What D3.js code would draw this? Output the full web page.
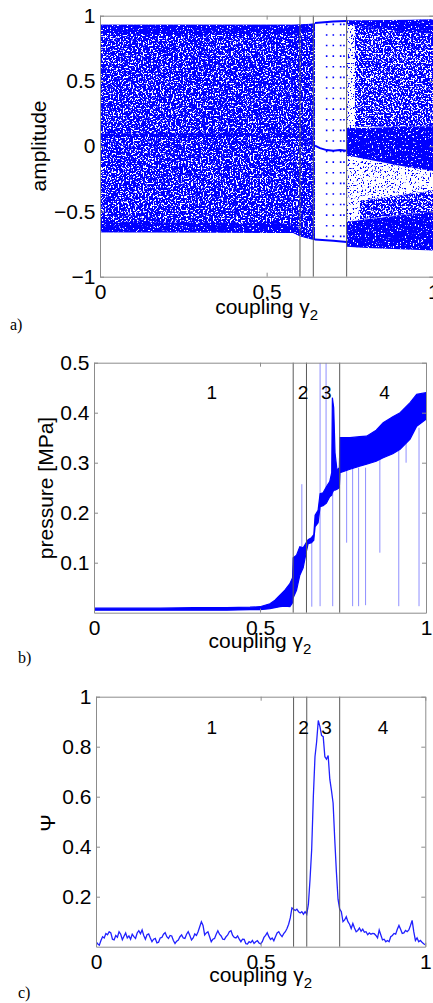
<!DOCTYPE html>
<html><head><meta charset="utf-8">
<script src="https://cdn.jsdelivr.net/npm/d3@7"></script>
<style>body{margin:0;background:#fff}svg{display:block}</style>
</head><body>
<svg id="c" width="433" height="1003"></svg>
<script>
// ---------------- DATA ----------------
const xTicks = [0, 0.5, 1];
const ampTicks = [-1, -0.5, 0, 0.5, 1];
const presTicks = [0.1, 0.2, 0.3, 0.4, 0.5];
const psiTicks = [0.2, 0.4, 0.6, 0.8, 1];
const dividers = [0.6, 0.64, 0.74];
const regionNames = ["1", "2", "3", "4"];
const regionGammaB = [0.355, 0.63, 0.70, 0.875];
const regionGammaC = [0.352, 0.63, 0.70, 0.872];

// panel a: envelopes of the point cloud  [gamma, upper, lower]
const ampLeftMain  = [[0,0.93,-0.66],[0.3,0.93,-0.66],[0.58,0.93,-0.665],[0.6,0.93,-0.69],[0.62,0.935,-0.705],[0.645,0.94,-0.72]];
const ampLeftTop   = [[0,0.93,0.86],[0.58,0.93,0.86],[0.645,0.94,0.88]];
const ampLeftMid   = [[0,0.10,0.07],[0.58,0.10,0.07],[0.61,0.07,0.04],[0.645,0.02,-0.01]];
const ampLeftBot   = [[0,-0.58,-0.66],[0.58,-0.59,-0.665],[0.6,-0.64,-0.69],[0.645,-0.69,-0.72]];
const ampRightBase = [[0.74,0.96,-0.77],[1,0.97,-0.8]];
const ampRightUp   = [[0.765,0.955,0.15],[0.8,0.96,0.15],[1,0.97,0.15]];
const ampRightTop  = [[0.74,0.965,0.935],[0.8,0.965,0.91],[1,0.97,0.86]];
const ampRightMid  = [[0.74,0.14,-0.07],[0.8,0.14,-0.1],[0.9,0.15,-0.15],[1,0.15,-0.19]];
const ampRightLow  = [[0.78,-0.42,-0.56],[1,-0.34,-0.5]];
const ampRightBot  = [[0.74,-0.58,-0.77],[0.8,-0.56,-0.78],[1,-0.5,-0.8]];
// periodic window branches  [gamma, amplitude]
const ampBranchTop = [[0.645,0.945],[0.7,0.955],[0.74,0.96]];
const ampBranchMid = [[0.645,0.005],[0.66,-0.015],[0.68,-0.03],[0.70,-0.035],[0.72,-0.03],[0.74,-0.035]];
const ampBranchBot = [[0.645,-0.715],[0.7,-0.725],[0.74,-0.735]];
const ampColumnsG  = [0.68, 0.70, 0.722, 0.732];
const ampColumnsHi = [0.94, 0.94, 0.94, 0.94];
const ampColumnsLo = [-0.74, -0.74, -0.74, -0.74];

// panel b: pressure band
const presG  = [0,0.1,0.2,0.3,0.4,0.47,0.5,0.53,0.545,0.56,0.575,0.59,0.598,0.6,0.61,0.62,0.63,0.639,0.645,0.655,0.662,0.666,0.675,0.681,0.69,0.70,0.71,0.716,0.718,0.722,0.726,0.732,0.739,0.741,0.771,0.80,0.821,0.85,0.871,0.90,0.922,0.952,0.972,1.0];
const presLo = [0.005,0.005,0.005,0.005,0.005,0.006,0.006,0.008,0.010,0.012,0.013,0.012,0.020,0.030,0.045,0.075,0.090,0.120,0.138,0.140,0.145,0.172,0.180,0.212,0.214,0.219,0.232,0.235,0.240,0.245,0.245,0.247,0.250,0.280,0.287,0.293,0.297,0.303,0.310,0.318,0.327,0.347,0.373,0.387];
const presHi = [0.009,0.009,0.009,0.010,0.010,0.011,0.012,0.018,0.025,0.035,0.045,0.058,0.070,0.110,0.115,0.132,0.130,0.140,0.146,0.150,0.156,0.195,0.205,0.238,0.240,0.252,0.262,0.280,0.430,0.410,0.320,0.285,0.290,0.350,0.350,0.352,0.353,0.365,0.380,0.392,0.400,0.420,0.437,0.440];
const spikeG   = [0.0, 0.626, 0.656, 0.681, 0.699, 0.719, 0.761, 0.779, 0.797, 0.818, 0.861, 0.918, 0.94, 0.979];
const spikeTop = [0.17, 0.257, 0.145, 0.5, 0.5, 0.27, 0.29, 0.29, 0.29, 0.29, 0.31, 0.33, 0.36, 0.37];
const spikeBot = [0.005, 0.10, 0.012, 0.013, 0.22, 0.013, 0.14, 0.013, 0.013, 0.015, 0.12, 0.013, 0.30, 0.013];

// panel c: Psi
const psiG = [0,0.005,0.01,0.015,0.02,0.025,0.03,0.035,0.04,0.045,0.05,0.055,0.06,0.065,0.07,0.075,0.08,0.085,0.09,0.095,
0.1,0.105,0.11,0.115,0.12,0.125,0.13,0.135,0.14,0.145,0.15,0.155,0.16,0.165,0.17,0.175,0.18,0.185,0.19,0.195,
0.2,0.205,0.21,0.215,0.22,0.225,0.23,0.235,0.24,0.245,0.25,0.255,0.26,0.265,0.27,0.275,0.28,0.285,0.29,0.295,
0.3,0.305,0.31,0.315,0.32,0.325,0.33,0.335,0.34,0.345,0.35,0.355,0.36,0.365,0.37,0.375,0.38,0.385,0.39,0.395,
0.4,0.405,0.41,0.415,0.42,0.425,0.43,0.435,0.44,0.445,0.45,0.455,0.46,0.465,0.47,0.475,0.48,0.485,0.49,0.495,
0.5,0.505,0.51,0.515,0.52,0.525,0.53,0.535,0.54,0.545,0.55,0.555,0.56,0.565,0.57,0.575,0.58,0.585,0.59,0.595,
0.6,0.605,0.61,0.615,0.62,0.625,0.63,0.635,0.64,0.645,0.65,0.655,0.66,0.665,0.67,0.675,0.68,0.685,0.69,0.695,
0.7,0.705,0.71,0.715,0.72,0.725,0.73,0.735,0.74,0.745,0.75,0.755,0.76,0.765,0.77,0.775,0.78,0.785,0.79,0.795,
0.8,0.805,0.81,0.815,0.82,0.825,0.83,0.835,0.84,0.845,0.85,0.855,0.86,0.865,0.87,0.875,0.88,0.885,0.89,0.895,
0.9,0.905,0.91,0.915,0.92,0.925,0.93,0.935,0.94,0.945,0.95,0.955,0.96,0.965,0.97,0.975,0.98,0.985,0.99,0.995,1.0];
const psiV = [0.02,0.012,0.006,0.025,0.04,0.035,0.053,0.048,0.06,0.055,0.03,0.027,0.045,0.038,0.06,0.05,0.028,0.042,0.055,0.035,
0.043,0.03,0.05,0.04,0.033,0.055,0.064,0.052,0.067,0.045,0.03,0.048,0.051,0.035,0.02,0.03,0.033,0.015,0.018,0.035,
0.037,0.05,0.056,0.04,0.033,0.045,0.043,0.025,0.013,0.022,0.027,0.04,0.047,0.035,0.033,0.05,0.06,0.045,0.027,0.035,
0.051,0.045,0.06,0.08,0.1,0.085,0.047,0.055,0.06,0.04,0.02,0.03,0.033,0.05,0.064,0.05,0.043,0.03,0.029,0.04,
0.047,0.06,0.064,0.045,0.037,0.035,0.043,0.03,0.02,0.03,0.029,0.012,0.011,0.02,0.016,0.025,0.013,0.02,0.024,0.015,
0.011,0.02,0.037,0.045,0.056,0.04,0.029,0.035,0.024,0.04,0.055,0.06,0.048,0.04,0.052,0.06,0.073,0.09,0.115,0.155,
0.15,0.145,0.15,0.14,0.135,0.14,0.13,0.14,0.13,0.17,0.27,0.39,0.6,0.76,0.82,0.905,0.88,0.845,0.84,0.76,
0.75,0.765,0.67,0.625,0.575,0.43,0.30,0.19,0.15,0.14,0.1,0.107,0.12,0.1,0.09,0.073,0.093,0.075,0.06,0.065,
0.075,0.062,0.07,0.058,0.06,0.048,0.055,0.05,0.053,0.052,0.045,0.035,0.067,0.047,0.027,0.03,0.02,0.025,0.02,0.04,
0.045,0.053,0.05,0.07,0.085,0.07,0.053,0.055,0.065,0.06,0.067,0.085,0.105,0.06,0.025,0.035,0.02,0.025,0.018,0.012,0.008];

// ---------------- DRAW ----------------
const FONT = "'Liberation Sans', Arial, Helvetica, sans-serif";
const SERIF = "'Liberation Serif', 'Times New Roman', serif";
const BLUE = "#0000ff";
const svg = d3.select("#c");
svg.append("rect").attr("width",433).attr("height",1003).attr("fill","#fff");
const defs = svg.append("defs");

function speckFilter(id, seed, freq, matrix, merge) {
  const f = defs.append("filter").attr("id", id).attr("x",0).attr("y",0).attr("width",1).attr("height",1)
    .attr("color-interpolation-filters","sRGB");
  f.append("feTurbulence").attr("type","fractalNoise").attr("baseFrequency",freq).attr("numOctaves",2)
    .attr("seed",seed).attr("result","n");
  f.append("feColorMatrix").attr("in","n").attr("type","matrix").attr("values",matrix).attr("result","m");
  f.append("feComposite").attr("in","m").attr("in2","SourceAlpha").attr("operator","in").attr("result","mc");
  if (merge) {
    const mg = f.append("feMerge");
    mg.append("feMergeNode").attr("in","SourceGraphic");
    mg.append("feMergeNode").attr("in","mc");
  }
}
// white speckles on blue (medium / light / dense), blue speckles on white (sparse)
speckFilter("fMed", 4, 0.6, "0 0 0 0 1  0 0 0 0 1  0 0 0 0 1  -15 0 0 0 6.75", true);
speckFilter("fLight", 6, 0.6, "0 0 0 0 1  0 0 0 0 1  0 0 0 0 1  -15 0 0 0 7.2", true);
speckFilter("fDense", 9, 0.6, "0 0 0 0 1  0 0 0 0 1  0 0 0 0 1  -15 0 0 0 5.4", true);
speckFilter("fSparse", 2, 0.6, "0 0 0 0 0  0 0 0 0 0  0 0 0 0 1  15 0 0 0 -9.0", false);

function frame(g, x, y, yTickVals) {
  const [x0, x1] = x.range();
  const [y0, y1] = y.range();
  const fmt = d => (d < 0 ? "\u2212" + Math.abs(d) : String(d));
  const style = sel => {
    sel.attr("font-size", 21).attr("font-family", FONT);
    sel.selectAll(".domain").attr("stroke", "#8c8c8c");
    sel.selectAll(".tick line").attr("stroke", "#8c8c8c");
    sel.selectAll(".tick text").attr("fill", "#000");
  };
  g.append("g").attr("transform", `translate(0,${y0})`)
    .call(d3.axisBottom(x).tickValues(xTicks).tickSizeInner(-4).tickSizeOuter(0).tickPadding(7).tickFormat(fmt)).call(style);
  g.append("g").attr("transform", `translate(0,${y1})`)
    .call(d3.axisTop(x).tickValues(xTicks).tickSizeInner(-4).tickSizeOuter(0).tickFormat("")).call(style);
  g.append("g").attr("transform", `translate(${x0},0)`)
    .call(d3.axisLeft(y).tickValues(yTickVals).tickSizeInner(-4).tickSizeOuter(0).tickPadding(4.5).tickFormat(fmt)).call(style);
  g.append("g").attr("transform", `translate(${x1},0)`)
    .call(d3.axisRight(y).tickValues(yTickVals).tickSizeInner(-4).tickSizeOuter(0).tickFormat("")).call(style);
}
function clip(id, x, y) {
  const [x0, x1] = x.range(); const [y0, y1] = y.range();
  defs.append("clipPath").attr("id", id).append("rect")
    .attr("x", x0).attr("y", y1).attr("width", x1 - x0).attr("height", y0 - y1);
}
function dividerLines(g, x, y) {
  const [y0, y1] = y.range();
  g.selectAll(null).data(dividers).join("line")
    .attr("x1", d => x(d)).attr("x2", d => x(d)).attr("y1", y0).attr("y2", y1)
    .attr("stroke", "#5a5a5a").attr("stroke-width", 1);
}
function couplingLabel(x, baseline) {
  const [x0, x1] = x.range();
  const t = svg.append("text").attr("x", (x0 + x1) / 2).attr("y", baseline).attr("text-anchor", "middle")
    .attr("font-family", FONT).attr("font-size", 21);
  t.append("tspan").text("coupling \u03b3");
  t.append("tspan").attr("dy", 6).attr("font-size", 15).text("2");
}
function yLabel(txt, xb, yc) {
  svg.append("text").attr("transform", `translate(${xb},${yc}) rotate(-90)`).attr("text-anchor", "middle")
    .attr("font-family", FONT).attr("font-size", 21).text(txt);
}
function panelLetter(txt, x, y) {
  svg.append("text").attr("x", x).attr("y", y).attr("font-family", SERIF).attr("font-size", 16).text(txt);
}

// ---------- Panel a ----------
{
  const x = d3.scaleLinear([0, 1], [100, 433.3]);
  const y = d3.scaleLinear([-1, 1], [276.7, 15.7]);
  clip("clipA", x, y);
  const g = svg.append("g");
  const plot = g.append("g").attr("clip-path", "url(#clipA)");
  const area = d3.area().x(d => x(d[0])).y0(d => y(d[2])).y1(d => y(d[1]));
  const bands = [
    [ampRightBase, "fSparse"], [ampLeftMain, "fMed"], [ampRightUp, "fLight"], [ampRightLow, "fLight"],
    [ampLeftTop, "fDense"], [ampLeftMid, "fDense"], [ampLeftBot, "fDense"],
    [ampRightTop, "fDense"], [ampRightMid, "fDense"], [ampRightBot, "fDense"]
  ];
  bands.forEach(([data, f]) => {
    plot.append("path").attr("d", area(data)).attr("fill", BLUE).attr("filter", `url(#${f})`);
  });
  const line = d3.line().x(d => x(d[0])).y(d => y(d[1]));
  [ampBranchTop, ampBranchMid, ampBranchBot].forEach(data => {
    plot.append("path").attr("d", line(data)).attr("fill", "none").attr("stroke", BLUE).attr("stroke-width", 2);
  });
  plot.selectAll(null).data(ampColumnsG).join("line")
    .attr("x1", d => x(d)).attr("x2", d => x(d))
    .attr("y1", (d, i) => y(ampColumnsHi[i])).attr("y2", (d, i) => y(ampColumnsLo[i]))
    .attr("stroke", BLUE).attr("stroke-width", 1.6).attr("stroke-dasharray", "1.6 9");
  dividerLines(g, x, y);
  frame(g, x, y, ampTicks);
  yLabel("amplitude", 46, 146);
  couplingLabel(x, 314);
  panelLetter("a)", 10, 330);
}

// ---------- Panel b ----------
{
  const x = d3.scaleLinear([0, 1], [94, 426]);
  const y = d3.scaleLinear([0, 0.5], [612.7, 362.7]);
  clip("clipB", x, y);
  const g = svg.append("g");
  const plot = g.append("g").attr("clip-path", "url(#clipB)");
  plot.selectAll(null).data(spikeG).join("line")
    .attr("x1", d => x(d)).attr("x2", d => x(d))
    .attr("y1", (d, i) => y(spikeTop[i])).attr("y2", (d, i) => y(spikeBot[i]))
    .attr("stroke", "#8f8fff").attr("stroke-width", 1);
  const rows = presG.map((gm, i) => [gm, presHi[i], presLo[i]]);
  const area = d3.area().x(d => x(d[0])).y0(d => y(d[2])).y1(d => y(d[1]));
  plot.append("path").attr("d", area(rows)).attr("fill", BLUE).attr("stroke", BLUE).attr("stroke-width", 1.2);
  dividerLines(g, x, y);
  g.selectAll(null).data(regionNames).join("text")
    .attr("x", (d, i) => x(regionGammaB[i])).attr("y", 399).attr("text-anchor", "middle")
    .attr("font-family", FONT).attr("font-size", 19).text(d => d);
  frame(g, x, y, presTicks);
  yLabel("pressure [MPa]", 53, 488);
  couplingLabel(x, 648);
  panelLetter("b)", 18, 663);
}

// ---------- Panel c ----------
{
  const x = d3.scaleLinear([0, 1], [96, 425.3]);
  const y = d3.scaleLinear([0, 1], [946.7, 696.7]);
  clip("clipC", x, y);
  const g = svg.append("g");
  const plot = g.append("g").attr("clip-path", "url(#clipC)");
  const line = d3.line().x((d, i) => x(psiG[i])).y(d => y(d));
  plot.append("path").attr("d", line(psiV)).attr("fill", "none").attr("stroke", "#2020ff").attr("stroke-width", 1.3);
  dividerLines(g, x, y);
  g.selectAll(null).data(regionNames).join("text")
    .attr("x", (d, i) => x(regionGammaC[i])).attr("y", 734).attr("text-anchor", "middle")
    .attr("font-family", FONT).attr("font-size", 19).text(d => d);
  frame(g, x, y, psiTicks);
  yLabel("\u03a8", 55, 823);
  couplingLabel(x, 982);
  panelLetter("c)", 18, 998);
}
</script>
</body></html>
